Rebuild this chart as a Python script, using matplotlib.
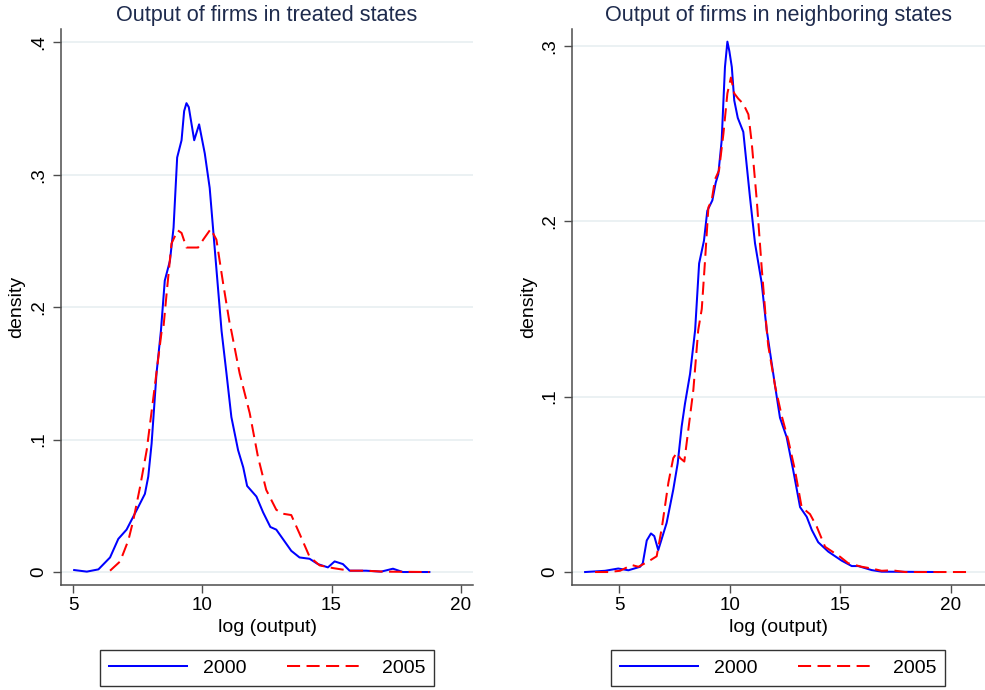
import matplotlib
matplotlib.use("Agg")
import matplotlib.pyplot as plt
from matplotlib.lines import Line2D

plt.rcParams['font.family'] = ['Liberation Sans', 'DejaVu Sans']

# ---------------- data ----------------
titles = ["Output of firms in treated states", "Output of firms in neighboring states"]
series_labels = ["2000", "2005"]
xlabel = "log (output)"
ylabel = "density"

# Treated states, 2000
tr00_x = [5.03, 5.52, 5.97, 6.42, 6.74, 7.06, 7.51, 7.77, 7.90, 8.03, 8.22, 8.39, 8.54, 8.74,
          8.88, 9.02, 9.19, 9.29, 9.38, 9.47, 9.68, 9.87, 10.09, 10.28, 10.48, 10.74, 10.93,
          11.12, 11.38, 11.58, 11.73, 12.09, 12.35, 12.63, 12.86, 13.44, 13.76, 14.15, 14.47,
          14.86, 15.12, 15.44, 15.70, 16.34, 16.92, 17.38, 17.76, 18.79]
tr00_y = [0.0015, 0.0003, 0.002, 0.011, 0.025, 0.032, 0.049, 0.059, 0.072, 0.097, 0.150, 0.182,
          0.220, 0.235, 0.260, 0.313, 0.326, 0.348, 0.354, 0.351, 0.326, 0.338, 0.316, 0.290,
          0.243, 0.182, 0.150, 0.117, 0.092, 0.079, 0.065, 0.057, 0.045, 0.034, 0.032, 0.016,
          0.011, 0.010, 0.006, 0.0035, 0.008, 0.006, 0.001, 0.001, 0.0003, 0.0025, 0.0, 0.0]

# Treated states, 2005
tr05_x = [6.42, 6.81, 7.13, 7.32, 7.58, 7.84, 8.10, 8.42, 8.49, 8.61, 8.80, 9.04, 9.19, 9.38,
          9.83, 10.03, 10.32, 10.54, 10.80, 11.06, 11.12, 11.44, 11.83, 12.15, 12.47, 12.86,
          13.12, 13.44, 13.76, 14.15, 14.54, 15.05, 15.70, 16.34, 16.99, 18.79]
tr05_y = [0.001, 0.008, 0.024, 0.039, 0.064, 0.092, 0.132, 0.182, 0.185, 0.210, 0.248, 0.258,
          0.256, 0.245, 0.245, 0.251, 0.259, 0.251, 0.218, 0.187, 0.182, 0.150, 0.120, 0.087,
          0.062, 0.047, 0.044, 0.043, 0.029, 0.0115, 0.005, 0.003, 0.001, 0.001, 0.0003, 0.0]

# Neighboring states, 2000
nb00_x = [3.45, 4.35, 4.95, 5.41, 5.94, 6.06, 6.24, 6.43, 6.58, 6.76, 7.14, 7.44, 7.64, 7.82,
          7.97, 8.20, 8.43, 8.61, 8.83, 8.98, 9.21, 9.36, 9.48, 9.63, 9.78, 9.89, 9.98, 10.09,
          10.20, 10.36, 10.61, 10.91, 11.14, 11.44, 11.67, 12.05, 12.27, 12.57, 12.87, 13.18,
          13.48, 13.71, 14.00, 14.46, 15.06, 15.52, 15.81, 16.42, 16.87, 19.43]
nb00_y = [0.0, 0.0007, 0.002, 0.001, 0.003, 0.005, 0.018, 0.022, 0.0205, 0.0125, 0.028, 0.047,
          0.062, 0.083, 0.096, 0.113, 0.138, 0.176, 0.189, 0.206, 0.212, 0.222, 0.227, 0.246,
          0.288, 0.3025, 0.297, 0.288, 0.269, 0.259, 0.251, 0.214, 0.1875, 0.165, 0.138, 0.106,
          0.088, 0.077, 0.058, 0.037, 0.0315, 0.024, 0.017, 0.0116, 0.0065, 0.0034, 0.0034,
          0.0011, 0.0002, 0.0]

# Neighboring states, 2005
nb05_x = [3.90, 4.50, 5.03, 5.56, 5.86, 6.31, 6.69, 6.92, 7.22, 7.44, 7.60, 7.75, 7.94, 8.12,
          8.35, 8.57, 8.73, 8.88, 9.03, 9.18, 9.33, 9.51, 9.71, 9.89, 10.05, 10.20, 10.38,
          10.61, 10.84, 10.99, 11.22, 11.44, 11.67, 11.74, 12.05, 12.35, 12.65, 12.95, 13.25,
          13.63, 13.93, 14.31, 14.99, 15.36, 15.97, 16.42, 16.87, 17.33, 17.93, 20.94]
nb05_y = [0.0, 0.0, 0.0007, 0.004, 0.003, 0.006, 0.009, 0.025, 0.051, 0.065, 0.068, 0.065,
          0.063, 0.081, 0.104, 0.138, 0.150, 0.178, 0.208, 0.212, 0.224, 0.229, 0.250, 0.273,
          0.282, 0.273, 0.270, 0.267, 0.261, 0.245, 0.212, 0.174, 0.138, 0.129, 0.106, 0.089,
          0.075, 0.058, 0.037, 0.033, 0.026, 0.0144, 0.0087, 0.005, 0.003, 0.002, 0.0007,
          0.001, 0.0, 0.0]

x_ticks = [5, 10, 15, 20]
y_ticks_left = [0, 0.1, 0.2, 0.3, 0.4]
y_tick_labels_left = ["0", ".1", ".2", ".3", ".4"]
y_ticks_right = [0, 0.1, 0.2, 0.3]
y_tick_labels_right = ["0", ".1", ".2", ".3"]

# ---------------- styling ----------------
BLUE = "#0000ff"
RED = "#ff0000"
TITLE_C = "#1e2b4d"
SPINE_C = "#4d4d4d"
GRID_C = "#e8eff1"
FS_TICK = 13.6
FS_TITLE = 15.6
FS_LAB = 14.0

W, H = 985, 690
fig = plt.figure(figsize=(W / 100, H / 100), dpi=100)

def frac_box(x0, x1, ytop, ybot):
    return [x0 / W, 1 - ybot / H, (x1 - x0) / W, (ybot - ytop) / H]

axL = fig.add_axes(frac_box(61, 473, 29, 585))
axR = fig.add_axes(frac_box(572.3, 985, 29, 585))

panels = [
    (axL, tr00_x, tr00_y, tr05_x, tr05_y, (4.52, 20.48), (-0.0098, 0.41),
     y_ticks_left, y_tick_labels_left, titles[0], 267),
    (axR, nb00_x, nb00_y, nb05_x, nb05_y, (2.87, 21.55), (-0.0074, 0.3097),
     y_ticks_right, y_tick_labels_right, titles[1], 778),
]

for ax, x0, y0, x5, y5, xl, yl, yt, ytl, title, legcx in panels:
    ax.plot(x0, y0, color=BLUE, lw=1.45, solid_joinstyle='round', zorder=3)
    ax.plot(x5, y5, color=RED, lw=1.45, dashes=(6.5, 3.2), zorder=3)
    ax.set_xlim(*xl)
    ax.set_ylim(*yl)
    ax.set_xticks(x_ticks)
    ax.set_xticklabels([str(t) for t in x_ticks])
    ax.set_yticks(yt)
    ax.set_yticklabels(ytl)
    for s in ("top", "right"):
        ax.spines[s].set_visible(False)
    for s in ("left", "bottom"):
        ax.spines[s].set_color(SPINE_C)
        ax.spines[s].set_linewidth(1.1)
    ax.tick_params(axis='both', colors=SPINE_C, labelcolor='black', length=5.8,
                   width=1.0, labelsize=FS_TICK)
    ax.tick_params(axis='x', pad=3.2)
    ax.tick_params(axis='y', pad=4.0, labelrotation=90)
    for lab in ax.get_yticklabels():
        lab.set_va('center')
    ax.grid(axis='y', color=GRID_C, lw=1.2, zorder=0)
    ax.set_axisbelow(True)
    ax.set_title(title, color=TITLE_C, fontsize=FS_TITLE, pad=6)
    ax.set_xlabel(xlabel, fontsize=FS_LAB, labelpad=3)
    ax.set_ylabel(ylabel, fontsize=FS_LAB)
    ax.yaxis.set_label_coords(-0.107, 0.5)
    ax.yaxis.label.set_va('center')

    handles = [Line2D([], [], color=BLUE, lw=1.45),
               Line2D([], [], color=RED, lw=1.45, dashes=(6.5, 3.2))]
    leg = fig.legend(handles, series_labels, loc='center',
                     bbox_to_anchor=(legcx / W, 1 - 668 / H), bbox_transform=fig.transFigure,
                     ncol=2, fontsize=FS_LAB, frameon=True, fancybox=False,
                     edgecolor='black', handlelength=4.0, handletextpad=0.85,
                     columnspacing=2.1, borderpad=0.45, borderaxespad=0)
    leg.get_frame().set_linewidth(1.0)

fig.savefig("out.png", dpi=100)
